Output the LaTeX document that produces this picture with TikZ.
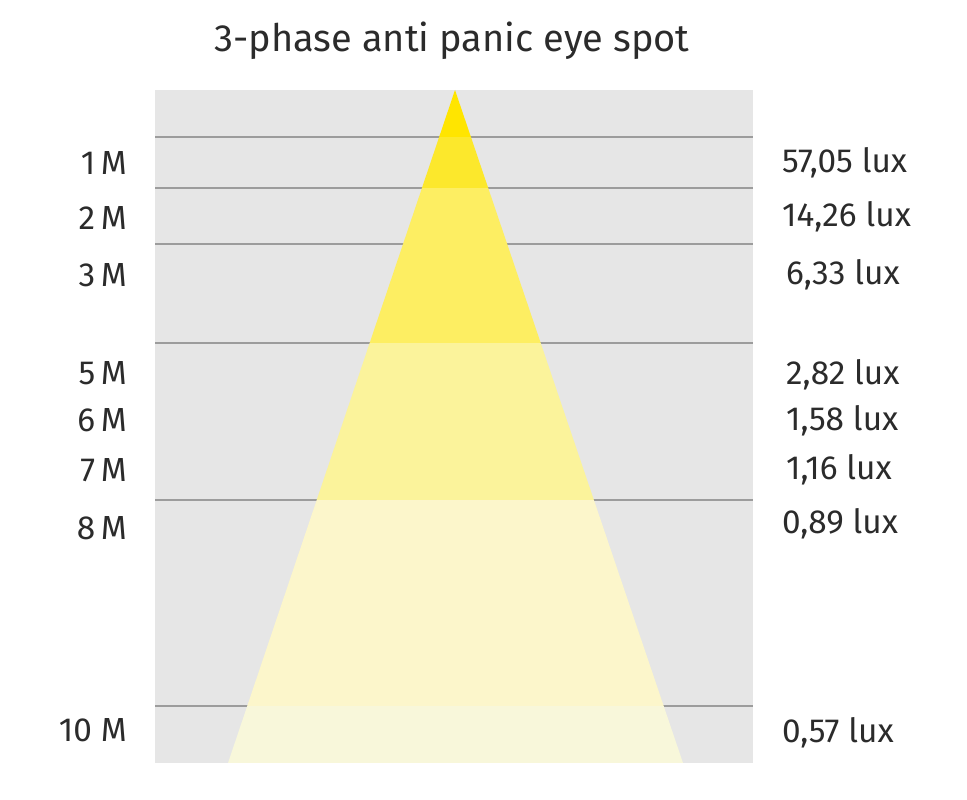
\documentclass[tikz,border=0pt]{standalone}
\usepackage{fontspec}
\setmainfont{Fira Sans}
\usepackage{xcolor}

\definecolor{panel}{HTML}{E6E6E6}
\definecolor{rulegray}{HTML}{9C9C9C}
\definecolor{ink}{HTML}{2B2B2B}
\definecolor{bandA}{HTML}{FFE500}
\definecolor{bandB}{HTML}{FCE82C}
\definecolor{bandC}{HTML}{FDEE62}
\definecolor{bandD}{HTML}{FBF39B}
\definecolor{bandE}{HTML}{FCF6CB}
\definecolor{bandF}{HTML}{F8F7DA}

\tikzset{
  rule/.style={rulegray,line width=1.1pt},
  dist/.style={anchor=east,text=ink,font=\fontsize{19}{22}\selectfont},
  lux/.style={anchor=west,text=ink,font=\fontsize{19}{22}\selectfont}
}

\begin{document}
\begin{tikzpicture}[x=0.02cm,y=-0.02cm]
  \useasboundingbox (0,0) rectangle (967,800);
  \fill[panel] (155,90) rectangle (753,763);
  \foreach \y in {137,188,244,343,500,706} \draw[rule] (155,\y) -- (753,\y);
  % light cone
  \coordinate (apex) at (455,90); \coordinate (bl) at (228,763); \coordinate (br) at (683,763);
  \begin{scope}
    \clip (apex) -- (bl) -- (br) -- cycle;
    \fill[bandA] (155,88) rectangle (753,137);
    \fill[bandB] (155,137) rectangle (753,188);
    \fill[bandC] (155,188) rectangle (753,343);
    \fill[bandD] (155,343) rectangle (753,500);
    \fill[bandE] (155,500) rectangle (753,706);
    \fill[bandF] (155,706) rectangle (753,763);
  \end{scope}
  \node[text=ink,font=\fontsize{21.6}{25}\selectfont] (title) at (452,41) {3-phase anti panic eye spot};
  \node[dist] (m1) at (133,163) {1\,M}; \node[dist] (m2) at (133,218) {2\,M}; \node[dist] (m3) at (133,275) {3\,M};
  \node[dist] (m5) at (133,373) {5\,M}; \node[dist] (m6) at (133,420) {6\,M}; \node[dist] (m7) at (133,470) {7\,M};
  \node[dist] (m8) at (133,528) {8\,M}; \node[dist] (m10) at (133,730) {10 M};
  \node[lux] (l1) at (776,163) {57,05 lux}; \node[lux] (l2) at (776,217) {14,26 lux}; \node[lux] (l3) at (780,275) {6,33 lux};
  \node[lux] (l5) at (780,375) {2,82 lux}; \node[lux] (l6) at (780,421) {1,58 lux}; \node[lux] (l7) at (780,470) {1,16 lux};
  \node[lux] (l8) at (776,524) {0,89 lux}; \node[lux] (l10) at (776,733) {0,57 lux};
\end{tikzpicture}
\end{document}
